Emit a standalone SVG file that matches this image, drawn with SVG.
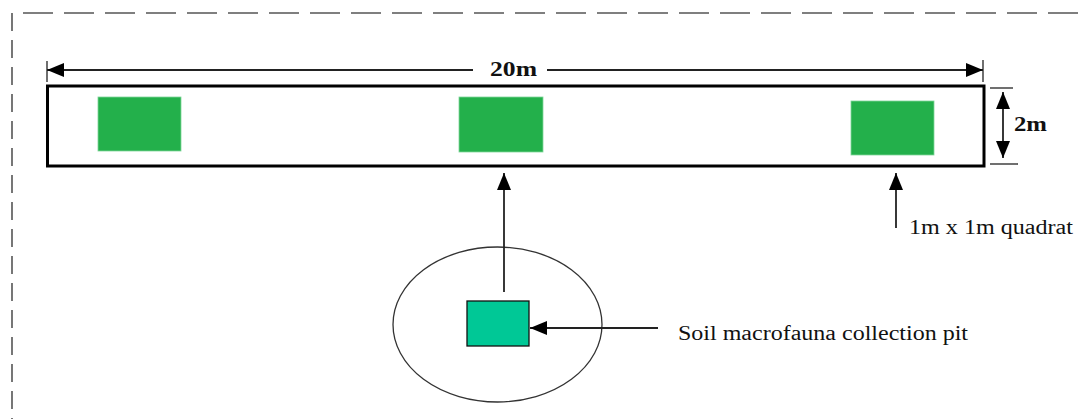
<svg xmlns="http://www.w3.org/2000/svg" width="1078" height="419" viewBox="0 0 1078 419">
  <style>
    .border { fill: none; stroke: #555; stroke-width: 1.6; }
    .conn { fill: none; stroke: #222; stroke-width: 1.8; }
    .tick { fill: none; stroke: #333; stroke-width: 1.4; }
    .quad { fill: #23b04b; stroke: #7fd69a; stroke-width: 0.8; }
    .pit { fill: #00c896; stroke: #111; stroke-width: 1.3; }
    .lbl { font-family: "Liberation Serif", "Times New Roman", serif; font-size: 20px; fill: #111; }
    .bold { font-weight: bold; }
  </style>
  <defs>
    <marker id="ah" markerUnits="userSpaceOnUse" markerWidth="18" markerHeight="14" refX="17" refY="7" orient="auto-start-reverse">
      <path d="M0,0 L17,7 L0,14 z" fill="#000"/>
    </marker>
  </defs>
  <rect width="1078" height="419" fill="#fff"/>

  <g id="border">
    <path class="border" d="M1078,13 L12,13" stroke-dasharray="30 11"/>
    <path class="border" d="M12,13 L12,419" stroke-dasharray="18 9"/>
  </g>

  <g id="transect">
    <rect x="47.5" y="86" width="936.5" height="80" fill="none" stroke="#000" stroke-width="3"/>
  </g>
  <g id="quadrat1"><rect class="quad" x="98" y="97" width="83" height="54"/></g>
  <g id="quadrat2"><rect class="quad" x="459" y="97" width="84" height="55"/></g>
  <g id="quadrat3"><rect class="quad" x="851" y="101" width="83" height="54"/></g>

  <g id="pit-area">
    <ellipse cx="497.5" cy="324.5" rx="104.5" ry="77.5" fill="none" stroke="#333" stroke-width="1.3"/>
    <rect class="pit" x="467" y="301" width="62" height="45"/>
  </g>

  <g id="dimensions">
    <line class="tick" x1="47" y1="61" x2="47" y2="82"/>
    <line class="tick" x1="983" y1="60" x2="983" y2="82"/>
    <line class="tick" x1="990" y1="88" x2="1013" y2="88"/>
    <line class="tick" x1="990" y1="164" x2="1018" y2="164"/>
    <text class="lbl bold" x="490" y="76" textLength="47" lengthAdjust="spacingAndGlyphs">20m</text>
    <text class="lbl bold" x="1014" y="131" textLength="33" lengthAdjust="spacingAndGlyphs">2m</text>
  </g>

  <g id="labels">
    <text class="lbl" x="909" y="234" textLength="164" lengthAdjust="spacingAndGlyphs">1m x 1m quadrat</text>
    <text class="lbl" x="678" y="340" textLength="290" lengthAdjust="spacingAndGlyphs">Soil macrofauna collection pit</text>
  </g>

  <g id="connectors">
    <line class="conn" x1="473" y1="70" x2="47" y2="70" stroke-width="1.5" marker-end="url(#ah)"/>
    <line class="conn" x1="547" y1="70" x2="983" y2="70" stroke-width="1.5" marker-end="url(#ah)"/>
    <line class="conn" x1="1003" y1="92" x2="1003" y2="158" marker-start="url(#ah)" marker-end="url(#ah)"/>
    <line class="conn" x1="504" y1="292" x2="504" y2="173" marker-end="url(#ah)"/>
    <line class="conn" x1="896" y1="228" x2="896" y2="173" stroke-width="2.2" marker-end="url(#ah)"/>
    <line class="conn" x1="658" y1="328" x2="530" y2="328" marker-end="url(#ah)"/>
  </g>
</svg>
